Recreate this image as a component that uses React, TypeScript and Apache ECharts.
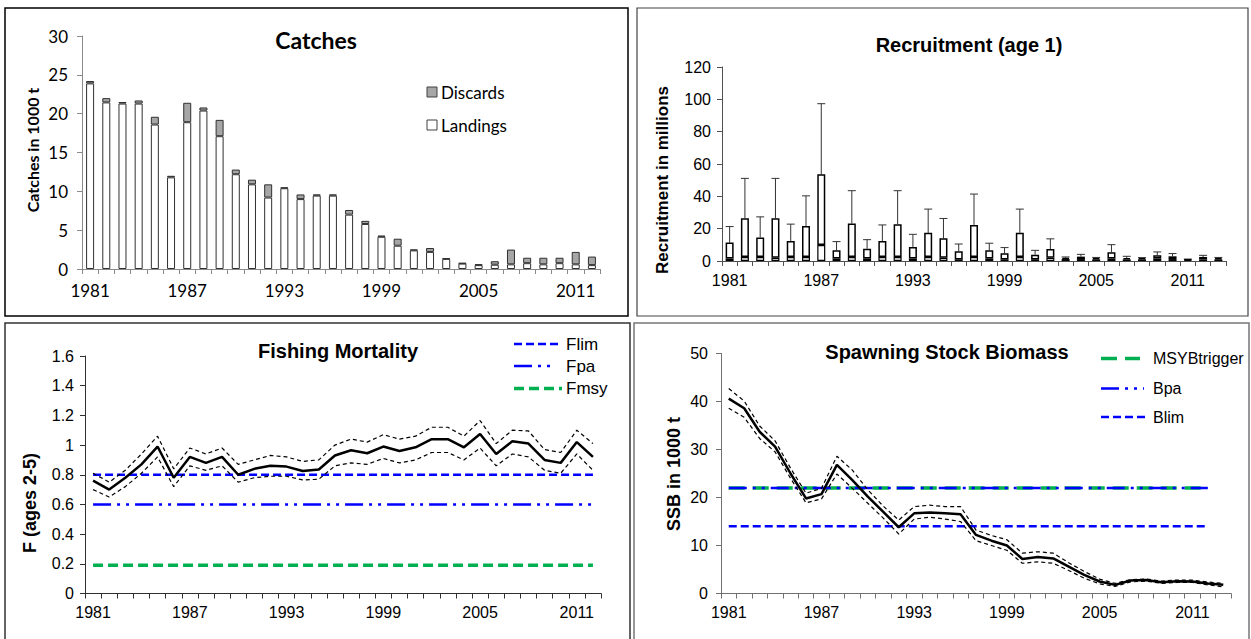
import React, { useEffect, useRef } from "react";
import * as echarts from "echarts";

// ---------- data ----------
const years1981to2012 = ["1981","1982","1983","1984","1985","1986","1987","1988","1989","1990","1991","1992","1993","1994","1995","1996","1997","1998","1999","2000","2001","2002","2003","2004","2005","2006","2007","2008","2009","2010","2011","2012"];
const years1981to2013 = [...years1981to2012, "2013"];

// Catches (1000 t)
const landings = [23.9, 21.45, 21.3, 21.3, 18.6, 11.8, 18.9, 20.4, 17.1, 12.2, 10.9, 9.2, 10.4, 9.0, 9.45, 9.45, 7.0, 5.8, 4.15, 3.0, 2.4, 2.2, 1.3, 0.7, 0.5, 0.55, 0.6, 0.75, 0.6, 0.75, 0.6, 0.5];
const discards = [0.3, 0.55, 0.2, 0.4, 1.0, 0.2, 2.5, 0.4, 2.1, 0.6, 0.6, 1.7, 0.1, 0.6, 0.15, 0.15, 0.6, 0.4, 0.15, 0.9, 0.1, 0.5, 0.1, 0.07, 0.1, 0.45, 1.9, 0.7, 0.85, 0.7, 1.6, 1.1];

// Recruitment (millions)
const recEstimate = [11.4, 26.5, 14.5, 26.5, 12.4, 21.7, 53.6, 6.6, 23.2, 7.6, 12.4, 22.8, 8.7, 17.4, 14.1, 6.0, 22.3, 6.6, 4.8, 17.4, 3.9, 7.4, 2.0, 2.7, 1.9, 5.4, 1.9, 1.8, 3.5, 2.9, 1.0, 2.5, 1.9];
const recHigh = [21.3, 51.1, 27.3, 51.1, 22.8, 40.3, 97.3, 12.0, 43.5, 13.2, 22.3, 43.5, 16.5, 32.1, 26.3, 10.5, 41.4, 11.0, 8.3, 32.1, 6.6, 13.7, 2.5, 4.1, 2.2, 10.1, 2.9, 2.1, 5.6, 4.6, 1.2, 3.5, 2.2];
const recLow = [1.5, 2.5, 2.5, 2.0, 2.5, 2.5, 9.9, 1.5, 2.5, 1.5, 2.5, 2.5, 1.5, 2.5, 2.0, 1.0, 2.5, 1.5, 1.0, 2.5, 1.0, 2.0, 1.2, 1.2, 1.0, 1.5, 1.0, 1.0, 1.5, 1.2, 0.6, 1.0, 1.0];

// Fishing mortality (ages 2-5)
const fMean = [0.76, 0.70, 0.78, 0.87, 0.99, 0.78, 0.92, 0.88, 0.92, 0.80, 0.84, 0.86, 0.855, 0.825, 0.835, 0.93, 0.965, 0.945, 0.99, 0.96, 0.985, 1.04, 1.04, 0.985, 1.075, 0.94, 1.025, 1.01, 0.90, 0.88, 1.02, 0.92];
const fHigh = [0.81, 0.75, 0.83, 0.94, 1.06, 0.84, 0.98, 0.94, 0.98, 0.87, 0.90, 0.93, 0.92, 0.89, 0.90, 1.00, 1.04, 1.02, 1.07, 1.04, 1.06, 1.12, 1.12, 1.06, 1.165, 1.01, 1.10, 1.095, 0.97, 0.95, 1.10, 1.01];
const fLow = [0.70, 0.65, 0.72, 0.81, 0.92, 0.72, 0.86, 0.83, 0.86, 0.75, 0.78, 0.79, 0.79, 0.765, 0.77, 0.86, 0.88, 0.87, 0.91, 0.88, 0.90, 0.95, 0.95, 0.90, 0.98, 0.86, 0.94, 0.92, 0.83, 0.81, 0.94, 0.83];
const FLIM = 0.8;
const FPA = 0.6;
const FMSY = 0.19;

// Spawning stock biomass (1000 t)
const ssbMean = [40.6, 38.6, 33.7, 30.6, 25.0, 19.8, 20.7, 26.8, 23.6, 20.2, 17.0, 13.8, 16.7, 16.9, 16.7, 16.5, 12.2, 11.0, 10.0, 7.2, 7.6, 7.3, 5.6, 3.9, 2.5, 1.8, 2.7, 2.8, 2.35, 2.55, 2.5, 2.1, 1.8];
const ssbHigh = [42.7, 40.1, 34.9, 31.8, 26.1, 20.9, 21.9, 28.6, 25.7, 21.6, 18.2, 15.3, 18.1, 18.4, 18.1, 18.1, 13.2, 12.1, 11.2, 8.4, 8.7, 8.4, 6.4, 4.6, 3.0, 2.1, 2.9, 3.0, 2.6, 2.8, 2.8, 2.4, 2.1];
const ssbLow = [38.6, 36.7, 32.3, 29.5, 24.0, 18.9, 19.7, 24.9, 21.9, 18.8, 15.7, 12.4, 15.5, 15.9, 15.5, 15.0, 11.0, 10.0, 9.0, 6.3, 6.6, 6.3, 4.8, 3.2, 2.0, 1.5, 2.4, 2.6, 2.1, 2.3, 2.3, 1.8, 1.4];
const MSYBTRIGGER = 22;
const BPA = 22;
const BLIM = 14;

// ---------- styling helpers ----------
const ARIAL = "Liberation Sans";
const CALIBRI = "Lato";
const BLUE = "#0000ff";
const GREEN = "#00b050";
const DASH_LIM = [8, 4];
const DASH_PA = [18, 6, 3, 6, 3, 6];
const DASH_MSY = [10, 5];
const DASH_TRIG = [16, 8];

function catAxis(gridIndex: number, data: string[], font: string, size: number, axisColor: string, margin: number) {
  return {
    type: "category",
    gridIndex,
    data,
    boundaryGap: true,
    axisLine: { show: true, lineStyle: { color: axisColor, width: 1 } },
    axisTick: { show: true, interval: 0, alignWithLabel: false, length: 5, lineStyle: { color: axisColor } },
    axisLabel: { interval: 5, margin, fontFamily: font, fontSize: size, color: "#000", hideOverlap: false },
    splitLine: { show: false },
  };
}

function valAxis(gridIndex: number, max: number, interval: number, font: string, size: number, axisColor: string, margin: number) {
  return {
    type: "value",
    gridIndex,
    min: 0,
    max,
    interval,
    axisLine: { show: true, lineStyle: { color: axisColor, width: 1 } },
    axisTick: { show: true, length: 5, lineStyle: { color: axisColor } },
    axisLabel: { margin, fontFamily: font, fontSize: size, color: "#000" },
    splitLine: { show: false },
  };
}

function lineSeries(name: string, xi: number, data: (number | null)[], color: string, width: number, type: any, z = 3) {
  return {
    name,
    type: "line",
    xAxisIndex: xi,
    yAxisIndex: xi,
    data,
    symbol: "none",
    lineStyle: { color, width, type },
    z,
  };
}

function refLine(value: number, n: number, total: number) {
  const arr: (number | null)[] = [];
  for (let i = 0; i < total; i++) arr.push(i < n ? value : null);
  return arr;
}

function legendLine(x1: number, x2: number, y: number, color: string, width: number, dash: number[]) {
  return {
    type: "line",
    shape: { x1, y1: y, x2, y2: y },
    style: { stroke: color, lineWidth: width, lineDash: dash },
  };
}

function label(text: string, x: number, y: number, font: string, size: number, bold: boolean, align = "left", rotation = 0) {
  return {
    type: "text",
    x,
    y,
    rotation,
    style: {
      text,
      fontFamily: font,
      fontSize: size,
      fontWeight: bold ? "bold" : "normal",
      fill: "#000",
      align,
      verticalAlign: "middle",
    },
  };
}

function buildOption() {
  const recBase = recLow;
  const recTop = recEstimate.map((v, i) => Math.max(v - recLow[i], 0));

  return {
    animation: false,
    backgroundColor: "#ffffff",
    grid: [
      { left: 82, top: 36, width: 518, height: 233, outerBoundsMode: "none" },
      { left: 722, top: 67, width: 504, height: 194, outerBoundsMode: "none" },
      { left: 85, top: 356, width: 516, height: 237.5, outerBoundsMode: "none" },
      { left: 721, top: 353.5, width: 510, height: 240, outerBoundsMode: "none" },
    ],
    xAxis: [
      catAxis(0, years1981to2012, CALIBRI, 17, "#8a8a8a", 13),
      catAxis(1, years1981to2013, ARIAL, 16, "#505050", 11),
      catAxis(2, years1981to2012, ARIAL, 16, "#303030", 11),
      catAxis(3, years1981to2013, ARIAL, 16, "#707070", 11),
    ],
    yAxis: [
      valAxis(0, 30, 5, CALIBRI, 17, "#8a8a8a", 14),
      valAxis(1, 120, 20, ARIAL, 16, "#505050", 11),
      valAxis(2, 1.6, 0.2, ARIAL, 16, "#303030", 11),
      valAxis(3, 50, 10, ARIAL, 16, "#707070", 13),
    ],
    series: [
      // Catches
      {
        name: "Landings",
        type: "bar",
        xAxisIndex: 0,
        yAxisIndex: 0,
        stack: "catch",
        data: landings,
        barWidth: 8,
        itemStyle: { color: "#ffffff", borderColor: "#303030", borderWidth: 1 },
      },
      {
        name: "Discards",
        type: "bar",
        xAxisIndex: 0,
        yAxisIndex: 0,
        stack: "catch",
        data: discards,
        barWidth: 8,
        itemStyle: { color: "#a6a6a6", borderColor: "#303030", borderWidth: 1 },
      },
      // Recruitment
      {
        name: "RecLow",
        type: "bar",
        xAxisIndex: 1,
        yAxisIndex: 1,
        stack: "rec",
        data: recBase,
        barWidth: 8,
        itemStyle: { color: "#ffffff", borderColor: "#000", borderWidth: 1.2 },
      },
      {
        name: "Recruitment",
        type: "bar",
        xAxisIndex: 1,
        yAxisIndex: 1,
        stack: "rec",
        data: recTop,
        barWidth: 8,
        itemStyle: { color: "#ffffff", borderColor: "#000", borderWidth: 1.5 },
      },
      {
        name: "RecError",
        type: "custom",
        xAxisIndex: 1,
        yAxisIndex: 1,
        data: recEstimate.map((v, i) => [i, v, recHigh[i]]),
        encode: { x: 0, y: [1, 2] },
        renderItem: (_params: any, api: any) => {
          const idx = api.value(0);
          const p1 = api.coord([idx, api.value(1)]);
          const p2 = api.coord([idx, api.value(2)]);
          const half = 4;
          return {
            type: "group",
            children: [
              { type: "line", shape: { x1: p1[0], y1: p1[1], x2: p2[0], y2: p2[1] }, style: { stroke: "#333", lineWidth: 1 } },
              { type: "line", shape: { x1: p2[0] - half, y1: p2[1], x2: p2[0] + half, y2: p2[1] }, style: { stroke: "#333", lineWidth: 1 } },
            ],
          };
        },
        z: 1,
      },
      // Fishing mortality
      lineSeries("Fmsy", 2, refLine(FMSY, 32, 32), GREEN, 3.5, DASH_MSY, 2),
      lineSeries("Fpa", 2, refLine(FPA, 32, 32), BLUE, 2.5, DASH_PA, 2),
      lineSeries("Flim", 2, refLine(FLIM, 32, 32), BLUE, 2.5, DASH_LIM, 2),
      lineSeries("F high", 2, fHigh, "#000", 1.2, [4, 3], 3),
      lineSeries("F low", 2, fLow, "#000", 1.2, [4, 3], 3),
      lineSeries("F", 2, fMean, "#000", 2.5, "solid", 4),
      // SSB
      lineSeries("MSYBtrigger", 3, refLine(MSYBTRIGGER, 32, 33), GREEN, 3.5, DASH_TRIG, 2),
      lineSeries("Bpa", 3, refLine(BPA, 32, 33), BLUE, 2.5, DASH_PA, 2),
      lineSeries("Blim", 3, refLine(BLIM, 32, 33), BLUE, 2.5, DASH_LIM, 2),
      lineSeries("SSB high", 3, ssbHigh, "#000", 1.2, [4, 3], 3),
      lineSeries("SSB low", 3, ssbLow, "#000", 1.2, [4, 3], 3),
      lineSeries("SSB", 3, ssbMean, "#000", 2.5, "solid", 4),
    ],
    graphic: [
      // panel borders
      { type: "rect", shape: { x: 5, y: 8, width: 623, height: 308 }, style: { fill: "none", stroke: "#000", lineWidth: 1.5 }, silent: true },
      { type: "rect", shape: { x: 637, y: 8, width: 611, height: 308 }, style: { fill: "none", stroke: "#444", lineWidth: 1.2 }, silent: true },
      { type: "rect", shape: { x: 5, y: 323, width: 625, height: 340 }, style: { fill: "none", stroke: "#333", lineWidth: 1.5 }, silent: true },
      { type: "rect", shape: { x: 634, y: 323, width: 615, height: 340 }, style: { fill: "none", stroke: "#777", lineWidth: 1.5 }, silent: true },
      // titles
      label("Catches", 316, 40, CALIBRI, 23, true, "center"),
      label("Recruitment (age 1)", 969, 45, ARIAL, 20, true, "center"),
      label("Fishing Mortality", 338, 351, ARIAL, 20, true, "center"),
      label("Spawning Stock Biomass", 947, 352, ARIAL, 20, true, "center"),
      // y-axis names
      label("Catches in 1000 t", 32, 150, CALIBRI, 16, true, "center", Math.PI / 2),
      label("Recruitment in millions", 662, 180, ARIAL, 17, true, "center", Math.PI / 2),
      label("F (ages 2-5)", 30, 503, ARIAL, 18, true, "center", Math.PI / 2),
      label("SSB in 1000 t", 674, 474, ARIAL, 18, true, "center", Math.PI / 2),
      // catches legend
      { type: "rect", shape: { x: 427, y: 87, width: 10, height: 10 }, style: { fill: "#a6a6a6", stroke: "#404040", lineWidth: 1 } },
      label("Discards", 441, 92, CALIBRI, 17, false),
      { type: "rect", shape: { x: 427, y: 120, width: 10, height: 10 }, style: { fill: "#ffffff", stroke: "#404040", lineWidth: 1 } },
      label("Landings", 441, 125, CALIBRI, 17, false),
      // F legend
      legendLine(514, 562, 344, BLUE, 2.5, DASH_LIM),
      label("Flim", 566, 344, ARIAL, 17, false),
      legendLine(514, 556, 366, BLUE, 2.5, DASH_PA),
      label("Fpa", 566, 366, ARIAL, 17, false),
      legendLine(514, 562, 388.5, GREEN, 3.5, DASH_MSY),
      label("Fmsy", 566, 388.5, ARIAL, 17, false),
      // SSB legend
      legendLine(1101, 1140, 358.5, GREEN, 3.5, DASH_TRIG),
      label("MSYBtrigger", 1153, 358.5, ARIAL, 16, false),
      legendLine(1101, 1144, 388.5, BLUE, 2.5, DASH_PA),
      label("Bpa", 1153, 388.5, ARIAL, 16, false),
      legendLine(1101, 1149, 417, BLUE, 2.5, DASH_LIM),
      label("Blim", 1153, 417, ARIAL, 16, false),
    ],
  };
}

export default function App() {
  const ref = useRef<HTMLDivElement>(null);
  useEffect(() => {
    if (!ref.current) return;
    const chart = echarts.init(ref.current, null, { renderer: "svg" });
    chart.setOption(buildOption() as any);
    return () => chart.dispose();
  }, []);
  return (
    <div
      ref={ref}
      style={{ position: "fixed", left: 0, top: 0, width: 1251, height: 639, background: "#fff" }}
    />
  );
}
